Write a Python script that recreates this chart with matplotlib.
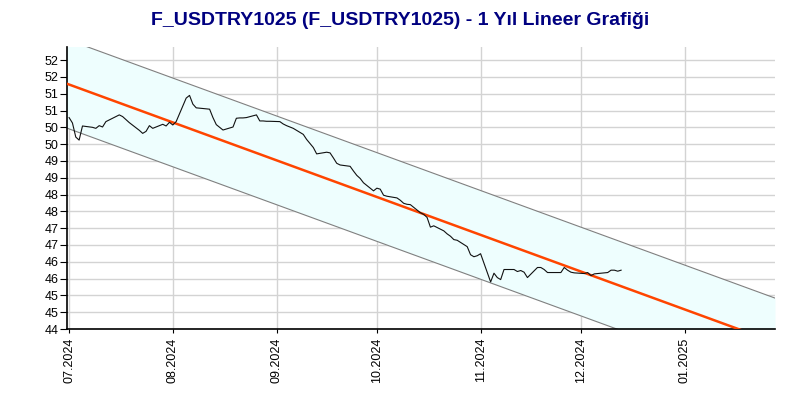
import math
import matplotlib
matplotlib.use("Agg")
import matplotlib.pyplot as plt
import matplotlib.dates as mdates
import matplotlib.ticker as mticker
import numpy as np
import pandas as pd

plt.rcParams['font.family'] = ['Liberation Sans', 'DejaVu Sans']

title = "F_USDTRY1025 (F_USDTRY1025) - 1 Yıl Lineer Grafiği"

dates = [
    "2024-07-01", "2024-07-02", "2024-07-03", "2024-07-04", "2024-07-05",
    "2024-07-08", "2024-07-09", "2024-07-10", "2024-07-11", "2024-07-12",
    "2024-07-15", "2024-07-16", "2024-07-17", "2024-07-18", "2024-07-19",
    "2024-07-22", "2024-07-23", "2024-07-24", "2024-07-25", "2024-07-26",
    "2024-07-29", "2024-07-30", "2024-07-31", "2024-08-01", "2024-08-02",
    "2024-08-05", "2024-08-06", "2024-08-07", "2024-08-08", "2024-08-09",
    "2024-08-12", "2024-08-13", "2024-08-14", "2024-08-15", "2024-08-16",
    "2024-08-19", "2024-08-20", "2024-08-21", "2024-08-22", "2024-08-23",
    "2024-08-26", "2024-08-27", "2024-08-28", "2024-08-29", "2024-08-30",
    "2024-09-02", "2024-09-03", "2024-09-04", "2024-09-05", "2024-09-06",
    "2024-09-09", "2024-09-10", "2024-09-11", "2024-09-12", "2024-09-13",
    "2024-09-16", "2024-09-17", "2024-09-18", "2024-09-19", "2024-09-20",
    "2024-09-23", "2024-09-24", "2024-09-25", "2024-09-26", "2024-09-27",
    "2024-09-30", "2024-10-01", "2024-10-02", "2024-10-03", "2024-10-04",
    "2024-10-07", "2024-10-08", "2024-10-09", "2024-10-10", "2024-10-11",
    "2024-10-14", "2024-10-15", "2024-10-16", "2024-10-17", "2024-10-18",
    "2024-10-21", "2024-10-22", "2024-10-23", "2024-10-24", "2024-10-25",
    "2024-10-28", "2024-10-29", "2024-10-30", "2024-10-31", "2024-11-01",
    "2024-11-04", "2024-11-05", "2024-11-06", "2024-11-07", "2024-11-08",
    "2024-11-11", "2024-11-12", "2024-11-13", "2024-11-14", "2024-11-15",
    "2024-11-18", "2024-11-19", "2024-11-20", "2024-11-21", "2024-11-22",
    "2024-11-25", "2024-11-26", "2024-11-27", "2024-11-28", "2024-11-29",
    "2024-12-02", "2024-12-03", "2024-12-04", "2024-12-05", "2024-12-06",
    "2024-12-09", "2024-12-10", "2024-12-11", "2024-12-12", "2024-12-13",
]

prices = [
    50.29, 50.13, 49.71, 49.62, 50.04,
    50.00, 49.97, 50.05, 50.01, 50.17,
    50.32, 50.37, 50.32, 50.23, 50.14,
    49.91, 49.82, 49.88, 50.05, 49.97,
    50.09, 50.04, 50.15, 50.07, 50.17,
    50.87, 50.95, 50.69, 50.58, 50.57,
    50.54, 50.29, 50.08, 50.00, 49.92,
    50.01, 50.27, 50.28, 50.28, 50.29,
    50.37, 50.19, 50.19, 50.18, 50.18,
    50.17, 50.10, 50.05, 50.01, 49.97,
    49.79, 49.64, 49.52, 49.40, 49.21,
    49.26, 49.24, 49.09, 48.93, 48.88,
    48.84, 48.70, 48.57, 48.48, 48.35,
    48.11, 48.19, 48.16, 47.98, 47.95,
    47.90, 47.83, 47.74, 47.71, 47.70,
    47.46, 47.41, 47.32, 47.03, 47.07,
    46.92, 46.83, 46.76, 46.66, 46.64,
    46.45, 46.21, 46.15, 46.18, 46.24,
    45.40, 45.66, 45.53, 45.47, 45.77,
    45.77, 45.71, 45.74, 45.69, 45.53,
    45.83, 45.83, 45.77, 45.68, 45.68,
    45.68, 45.83, 45.75, 45.69, 45.67,
    45.65, 45.68, 45.59, 45.64, 45.65,
    45.68, 45.75, 45.75, 45.72, 45.75,
]

# Linear trend (start/end) and channel half-width
trend_dates = ["2024-06-30", "2025-01-28"]
trend_values = [51.31, 43.60]
channel_width = 1.32

x_tick_dates = ["2024-07-01", "2024-08-01", "2024-09-01", "2024-10-01",
                "2024-11-01", "2024-12-01", "2025-01-01"]
y_ticks = [44 + 0.5 * i for i in range(17)]

dt = pd.to_datetime(dates)
tdt = pd.to_datetime(trend_dates)
tv = np.array(trend_values)

fig = plt.figure(figsize=(8, 4), dpi=100)
ax = fig.add_axes([0.08375, 0.1775, 0.885, 0.705])

ax.fill_between(tdt, tv - channel_width, tv + channel_width,
                color="#EEFEFE", zorder=1, linewidth=0)
ax.plot(tdt, tv + channel_width, color="#808080", lw=0.8, zorder=2)
ax.plot(tdt, tv - channel_width, color="#808080", lw=0.8, zorder=2)
ax.plot(tdt, tv, color="#FF4500", lw=1.8, zorder=3)
ax.plot(dt, prices, color="#111111", lw=0.8, zorder=4)

ax.set_xlim(pd.Timestamp("2024-06-30 09:00"), pd.Timestamp("2025-01-28"))
ax.set_ylim(44, 52.39)

ax.set_xticks(pd.to_datetime(x_tick_dates))
ax.xaxis.set_major_formatter(mdates.DateFormatter("%m.%Y"))
ax.set_yticks(y_ticks)
ax.yaxis.set_major_formatter(mticker.FuncFormatter(lambda v, p: str(int(math.floor(v + 0.5)))))

ax.tick_params(axis="x", labelrotation=90, labelsize=9, length=3, pad=3)
ax.tick_params(axis="y", labelsize=9, length=5, pad=1)

ax.grid(True, color="#D3D3D3", lw=1, zorder=0)
ax.set_axisbelow(True)
for s in ["top", "right"]:
    ax.spines[s].set_visible(False)
ax.spines["left"].set_linewidth(1.2)
ax.spines["bottom"].set_linewidth(1.2)

fig.text(0.5, 0.948, title, ha="center", va="center", fontsize=14,
         fontweight="bold", color="#000080")

fig.savefig("out.png", dpi=100)
